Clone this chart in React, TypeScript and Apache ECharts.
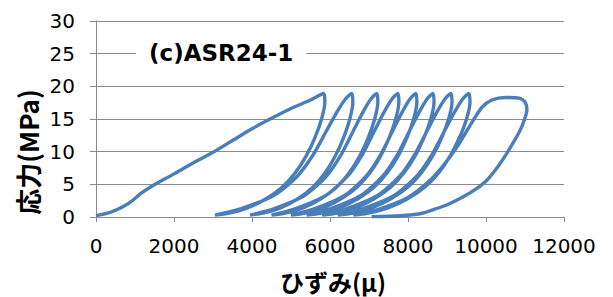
import React, { useEffect, useRef } from "react";
import * as echarts from "echarts";

type Pt = [number, number];

const xTicks = { min: 0, max: 12000, interval: 2000 };
const yTicks = { min: 0, max: 30, interval: 5 };

const initialLoading: Pt[] = [[0,0.2],[400,0.8],[700,1.6],[950,2.6],[1150,3.6],[1400,4.6],[2000,6.6],[2500,8.3],[3000,9.9],[3500,11.7],[4000,13.5],[4500,15.1],[5000,16.6],[5500,17.9],[5840,18.9]];
const unload1: Pt[] = [[5868,17.6],[5784,15.0],[5617,12.2],[5394,9.4],[5115,6.8],[4780,4.6],[4361,2.8],[3887,1.4],[3413,0.6],[3050,0.3]];
const reload1: Pt[] = [[3682,1.2],[4559,3.3],[5156,6.2],[5577,9.6],[5911,13.2],[6191,16.2],[6402,18.1],[6560,18.9]];
const unload2: Pt[] = [[6586,17.6],[6508,15.0],[6351,12.2],[6142,9.4],[5881,6.8],[5568,4.6],[5177,2.8],[4733,1.4],[4289,0.6],[3950,0.3]];
const reload2: Pt[] = [[4535,1.2],[5348,3.3],[5900,6.2],[6290,9.6],[6599,13.2],[6859,16.2],[7054,18.1],[7200,18.9]];
const unload3: Pt[] = [[7227,17.6],[7146,15.0],[6984,12.2],[6768,9.4],[6498,6.8],[6174,4.6],[5769,2.8],[5310,1.4],[4851,0.6],[4500,0.3]];
const reload3: Pt[] = [[5083,1.2],[5893,3.3],[6444,6.2],[6833,9.6],[7141,13.2],[7400,16.2],[7594,18.1],[7740,18.9]];
const unload4: Pt[] = [[7767,17.6],[7685,15.0],[7521,12.2],[7302,9.4],[7028,6.8],[6699,4.6],[6288,2.8],[5822,1.4],[5356,0.6],[5000,0.3]];
const reload4: Pt[] = [[5576,1.2],[6376,3.3],[6920,6.2],[7304,9.6],[7608,13.2],[7864,16.2],[8056,18.1],[8200,18.9]];
const unload5: Pt[] = [[8228,17.6],[8144,15.0],[7976,12.2],[7752,9.4],[7472,6.8],[7136,4.6],[6716,2.8],[6240,1.4],[5764,0.6],[5400,0.3]];
const reload5: Pt[] = [[5983,1.2],[6793,3.3],[7344,6.2],[7733,9.6],[8041,13.2],[8300,16.2],[8494,18.1],[8640,18.9]];
const unload6: Pt[] = [[8668,17.6],[8583,15.0],[8413,12.2],[8186,9.4],[7902,6.8],[7561,4.6],[7135,2.8],[6652,1.4],[6169,0.6],[5800,0.3]];
const reload6: Pt[] = [[6394,1.2],[7219,3.3],[7780,6.2],[8176,9.6],[8490,13.2],[8754,16.2],[8952,18.1],[9100,18.9]];
const unload7: Pt[] = [[9129,17.6],[9042,15.0],[8868,12.2],[8636,9.4],[8346,6.8],[7998,4.6],[7563,2.8],[7070,1.4],[6577,0.6],[6200,0.3]];
const reload7: Pt[] = [[6805,1.2],[7645,3.3],[8216,6.2],[8619,9.6],[8938,13.2],[9207,16.2],[9409,18.1],[9560,18.9]];
const unload8: Pt[] = [[9590,17.6],[9501,15.0],[9323,12.2],[9086,9.4],[8790,6.8],[8435,4.6],[7991,2.8],[7488,1.4],[6985,0.6],[6600,0.3]];
const finalLoop: Pt[] = [[7200,1.1],[8000,3.0],[8600,5.8],[9000,8.6],[9350,11.6],[9650,14.6],[9900,16.8],[10150,17.9],[10500,18.3],[10850,18.2],[11000,17.6],[11050,16.4],[10980,14.8],[10870,13.2],[10700,11.4],[10530,9.7],[10280,7.5],[10017,5.6],[9700,4.1],[9419,3.1],[9050,2.0],[8735,1.3],[8308,0.5],[7800,0.2],[7070,0.05]];

const curve: Pt[] = [
  ...initialLoading, ...unload1, ...reload1, ...unload2, ...reload2, ...unload3, ...reload3,
  ...unload4, ...reload4, ...unload5, ...reload5, ...unload6, ...reload6, ...unload7, ...reload7,
  ...unload8, ...finalLoop,
];

const titleText = "(c)ASR24-1";
const xName = "ひずみ(μ)";
const yName = "応力(MPa)";

export default function App() {
  const ref = useRef<HTMLDivElement>(null);
  useEffect(() => {
    if (!ref.current) return;
    const chart = echarts.init(ref.current, undefined, { renderer: "svg" });
    const gray = "#8c8c8c";
    chart.setOption({
      animation: false,
      backgroundColor: "#ffffff",
      grid: { left: 96, right: 49, top: 21, bottom: 80 },
      title: {
        text: titleText,
        left: 136,
        top: 36,
        padding: [5, 13],
        backgroundColor: "#ffffff",
        textStyle: { fontFamily: "DejaVu Sans", fontWeight: "bold", fontSize: 23, color: "#000" },
      },
      xAxis: {
        type: "value",
        min: xTicks.min,
        max: xTicks.max,
        interval: xTicks.interval,
        axisLine: { show: true, lineStyle: { color: gray, width: 1 } },
        axisTick: { show: true, length: 5, lineStyle: { color: gray } },
        splitLine: { show: false },
        axisLabel: {
          margin: 19,
          color: "#000",
          fontSize: 20,
          fontFamily: "DejaVu Sans",
          formatter: (v: number) => String(v),
        },
      },
      yAxis: {
        type: "value",
        min: yTicks.min,
        max: yTicks.max,
        interval: yTicks.interval,
        axisLine: { show: true, lineStyle: { color: gray, width: 1 } },
        axisTick: { show: true, length: 6, lineStyle: { color: gray } },
        splitLine: { show: true, lineStyle: { color: gray, width: 1 } },
        axisLabel: {
          margin: 21,
          color: "#000",
          fontSize: 20,
          fontFamily: "DejaVu Sans",
          formatter: (v: number) => String(v),
        },
      },
      graphic: [
        {
          type: "text",
          x: 27,
          y: 152,
          rotation: Math.PI / 2,
          style: {
            text: yName,
            font: 'bold 26px "Noto Sans CJK JP"',
            align: "center",
            verticalAlign: "middle",
            fill: "#000",
          },
        },
        {
          type: "text",
          x: 333,
          y: 281,
          style: {
            text: xName,
            font: 'bold 24px "Noto Sans CJK JP"',
            align: "center",
            verticalAlign: "middle",
            fill: "#000",
          },
        },
      ],
      series: [
        {
          type: "line",
          data: curve,
          showSymbol: false,
          smooth: 0.25,
          lineStyle: { color: "#4A7EBB", width: 3.4 },
          z: 1,
        },
      ],
    });
    return () => chart.dispose();
  }, []);
  return <div ref={ref} style={{ position: "fixed", left: 0, top: 0, width: 613, height: 297 }} />;
}
